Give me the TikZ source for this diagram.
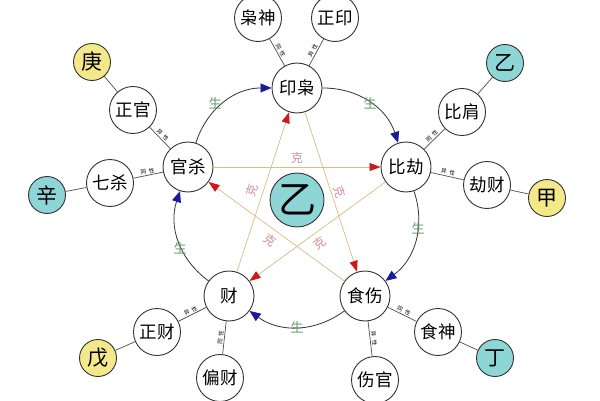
\documentclass[tikz,border=0pt]{standalone}
\usepackage{fontspec}
\newfontfamily\cjk{Noto Sans CJK SC}
\usetikzlibrary{arrows.meta}
\definecolor{gy}{HTML}{F3E98A}
\definecolor{cy}{HTML}{8ED6D6}
\definecolor{shengc}{HTML}{5E9A6A}
\definecolor{kec}{HTML}{D48C9E}
\definecolor{starline}{HTML}{D9BC82}
\definecolor{tipblue}{HTML}{1A1A9A}
\definecolor{tipred}{HTML}{D01818}
\begin{document}
\begin{tikzpicture}[x=1pt,y=1pt,
 base/.style={circle, draw=black!80, line width=0.9pt, fill=white, inner sep=0pt, font=\cjk\fontsize{17.5}{17.5}\selectfont},
 mainnode/.style={base, minimum size=50pt},
 outernode/.style={base, minimum size=47pt},
 gannode/.style={base, minimum size=37pt, font=\cjk\fontsize{21}{21}\selectfont},
 ycol/.style={fill=gy}, ccol/.style={fill=cy},
 spoke/.style={draw=black!70, line width=0.7pt},
 sx/.style={font=\cjk\fontsize{5.5}{5.5}\selectfont, sloped, above, inner sep=1pt},
 sheng/.style={draw=black!80, line width=0.8pt, -{Triangle[length=11pt,width=9pt,color=tipblue]}},
 ke/.style={draw=starline, line width=0.7pt, -{Triangle[length=11pt,width=8pt,color=tipred]}},
 shenglbl/.style={text=shengc, font=\cjk\fontsize{13}{13}\selectfont},
 kelbl/.style={text=kec, font=\cjk\fontsize{12}{12}\selectfont}
]
\useasboundingbox (0,0) rectangle (600,400);
% main nodes
\node[mainnode] (yinxiao) at (297,312) {印枭};
\node[mainnode] (bijie) at (406,233) {比劫};
\node[mainnode] (shishang) at (365,104) {食伤};
\node[mainnode] (cai) at (229,104) {财};
\node[mainnode] (guansha) at (188,233) {官杀};
\node[base, ccol, minimum size=54pt, font=\cjk\fontsize{38}{38}\selectfont] (center) at (297,200) {乙};
% outer nodes
\node[outernode] (xiaoshen) at (258,382) {枭神};
\node[outernode] (zhengyin) at (335,382) {正印};
\node[outernode] (zhengguan) at (133,290) {正官};
\node[outernode] (qisha) at (110,217) {七杀};
\node[outernode] (bijian) at (462,288) {比肩};
\node[outernode] (jiecai) at (487,215) {劫财};
\node[outernode] (zhengcai) at (157,68) {正财};
\node[outernode] (piancai) at (220,22) {偏财};
\node[outernode] (shishen) at (438,68) {食神};
\node[outernode] (shangguan) at (375,20) {伤官};
% gan nodes
\node[gannode, ycol] (geng) at (92,338) {庚};
\node[gannode, ccol] (xin) at (47,205) {辛};
\node[gannode, ccol] (yi) at (505,337) {乙};
\node[gannode, ycol] (jia) at (547,202) {甲};
\node[gannode, ycol] (wu) at (98,42) {戊};
\node[gannode, ccol] (ding) at (495,42) {丁};
% spokes
\draw[spoke] (yinxiao) -- node[sx] {同\hspace{3pt}性} (xiaoshen);
\draw[spoke] (yinxiao) -- node[sx] {异\hspace{3pt}性} (zhengyin);
\draw[spoke] (guansha) -- node[sx] {异\hspace{3pt}性} (zhengguan);
\draw[spoke] (guansha) -- node[sx] {同\hspace{3pt}性} (qisha);
\draw[spoke] (bijie) -- node[sx] {同\hspace{3pt}性} (bijian);
\draw[spoke] (bijie) -- node[sx] {异\hspace{3pt}性} (jiecai);
\draw[spoke] (cai) -- node[sx] {异\hspace{3pt}性} (zhengcai);
\draw[spoke] (cai) -- node[sx] {同\hspace{3pt}性} (piancai);
\draw[spoke] (shishang) -- node[sx] {同\hspace{3pt}性} (shishen);
\draw[spoke] (shishang) -- node[sx] {异\hspace{3pt}性} (shangguan);
\draw[spoke] (zhengguan) -- (geng);
\draw[spoke] (qisha) -- (xin);
\draw[spoke] (bijian) -- (yi);
\draw[spoke] (jiecai) -- (jia);
\draw[spoke] (zhengcai) -- (wu);
\draw[spoke] (shishen) -- (ding);
% sheng cycle
\draw[sheng] (yinxiao) to[bend left=36] (bijie);
\draw[sheng] (bijie) to[bend left=36] (shishang);
\draw[sheng] (shishang) to[bend left=36] (cai);
\draw[sheng] (cai) to[bend left=36] (guansha);
\draw[sheng] (guansha) to[bend left=36] (yinxiao);
\node[shenglbl] (s1) at (370,297) {生};
\node[shenglbl] (s2) at (418,172) {生};
\node[shenglbl] (s3) at (297,73) {生};
\node[shenglbl] (s4) at (180,152) {生};
\node[shenglbl] (s5) at (215,297) {生};
% ke star
\draw[ke] (cai) -- (yinxiao);
\draw[ke] (yinxiao) -- (shishang);
\draw[ke] (guansha) -- (bijie);
\draw[ke] (shishang) -- (guansha);
\draw[ke] (bijie) -- (cai);
\node[kelbl] (k1) at (297,242) {克};
\node[kelbl, rotate=72] (k2) at (252,210) {克};
\node[kelbl, rotate=-72] (k3) at (340,208) {克};
\node[kelbl, rotate=-36] (k4) at (270,160) {克};
\node[kelbl, rotate=36] (k5) at (320,157) {克};
\end{tikzpicture}
\end{document}
